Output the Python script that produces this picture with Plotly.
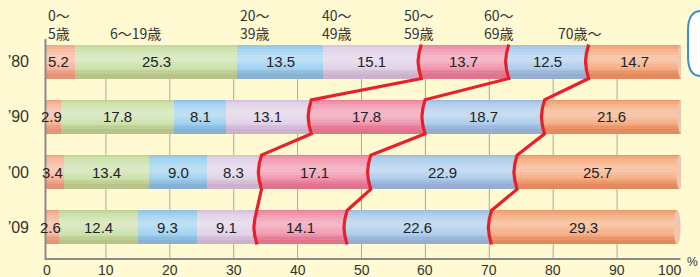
import numpy as np
import plotly.graph_objects as go

# ---- data ----
years = ["’80", "’90", "’00", "’09"]
age_groups = ["0～\n5歳", "6～19歳", "20～\n39歳", "40～\n49歳", "50～\n59歳", "60～\n69歳", "70歳～"]
v_0_5 = [5.2, 2.9, 3.4, 2.6]
v_6_19 = [25.3, 17.8, 13.4, 12.4]
v_20_39 = [13.5, 8.1, 9.0, 9.3]
v_40_49 = [15.1, 13.1, 8.3, 9.1]
v_50_59 = [13.7, 17.8, 17.1, 14.1]
v_60_69 = [12.5, 18.7, 22.9, 22.6]
v_70 = [14.7, 21.6, 25.7, 29.3]
x_ticks = [0, 10, 20, 30, 40, 50, 60, 70, 80, 90, 100]

series = [v_0_5, v_6_19, v_20_39, v_40_49, v_50_59, v_60_69, v_70]
colors = ["#f6a888", "#c3dd9b", "#8fcaee", "#dbc8e4", "#ee84a0", "#9ec4ea", "#f49e6c"]

W, H = 700, 277
L, R, T, B = 41.5, 18.5, 39, 18
PW, PH = W - L - R, H - T - B
BG = "#fffad2"

def px(xp):
    return (xp - L) / PW

def py(yp):
    return (H - B - yp) / PH

vals = np.array(series)  # groups x years
starts = np.vstack([np.zeros(vals.shape[1]), np.cumsum(vals, axis=0)[:-1]])
totals = vals.sum(axis=0)
ypos = np.arange(len(years))[::-1].astype(float)  # '80 on top
bw = 0.615

fig = go.Figure()
for g in range(len(series)):
    fig.add_trace(go.Bar(
        orientation="h", y=ypos, x=vals[g], base=starts[g], width=bw,
        marker=dict(color=colors[g], line=dict(width=0)),
        hoverinfo="skip", showlegend=False))

# cylinder shading (soft layers)
def shade(width, offset, color):
    fig.add_trace(go.Bar(orientation="h", y=ypos, x=totals, base=np.zeros(len(years)),
                         width=width, offset=offset, marker=dict(color=color, line=dict(width=0)),
                         hoverinfo="skip", showlegend=False))

for wdt in (0.46, 0.34, 0.22, 0.12):
    shade(wdt, 0.06 - wdt / 2, "rgba(255,255,255,0.13)")
for wdt in (0.16, 0.09):
    shade(wdt, -bw / 2, "rgba(110,0,0,0.06)")
shade(0.04, bw / 2 - 0.04, "rgba(110,0,0,0.04)")

# red connector lines (boundaries before 50~59, 60~69, 70~)
for g in (4, 5, 6):
    xs, ys = [], []
    for i in range(len(years)):
        c = starts[g][i]
        yt, yb = ypos[i] + bw / 2, ypos[i] - bw / 2
        xs += [c + 0.25, c - 0.1, c - 0.25, c - 0.1, c + 0.25]
        ys += [yt, ypos[i] + bw / 4, ypos[i], ypos[i] - bw / 4, yb]
    fig.add_trace(go.Scatter(x=xs, y=ys, mode="lines",
                             line=dict(color="#e8202a", width=3.2),
                             hoverinfo="skip", showlegend=False))

shapes = []
# gridlines
for t in x_ticks[1:-1]:
    shapes.append(dict(type="line", xref="x", yref="paper", x0=t, x1=t, y0=0, y1=py(45),
                       line=dict(color="#a8a8a8", width=1), layer="below"))
# bar end caps
for i in range(len(years)):
    shapes.append(dict(type="circle", xref="x", yref="y", x0=totals[i] - 0.55, x1=totals[i] + 0.55,
                       y0=ypos[i] - bw / 2, y1=ypos[i] + bw / 2,
                       fillcolor="#f0c6ae", line=dict(width=0), layer="above"))
# cover left of axis
shapes.append(dict(type="rect", xref="paper", yref="paper", x0=px(38), x1=px(44.5), y0=0, y1=1,
                   fillcolor=BG, line=dict(width=0), layer="above"))
# axes lines
shapes.append(dict(type="line", xref="paper", yref="paper", x0=px(45), x1=px(45), y0=0, y1=py(39),
                   line=dict(color="#8a8a8a", width=2), layer="above"))
shapes.append(dict(type="line", xref="paper", yref="paper", x0=px(44), x1=px(681), y0=0, y1=0,
                   line=dict(color="#8a8a8a", width=2), layer="above"))
# box at top right
x0b, x1b, y0b, y1b = px(688.5), px(740), py(11), py(76)
shapes.append(dict(type="path", xref="paper", yref="paper",
                   path=f"M {x0b+0.02},{y0b} L {x1b},{y0b} L {x1b},{y1b} L {x0b+0.02},{y1b} "
                        f"Q {x0b},{y1b} {x0b},{y1b+0.09} L {x0b},{y0b-0.09} Q {x0b},{y0b} {x0b+0.02},{y0b} Z",
                   fillcolor="white", line=dict(color="#3f8fd2", width=2), layer="above"))

annotations = []
num_font = dict(family="Liberation Sans, Arial", size=15, color="#222")
for g in range(len(series)):
    for i in range(len(years)):
        cx = starts[g][i] + vals[g][i] / 2
        annotations.append(dict(x=cx, y=ypos[i], xref="x", yref="y", text=f"{vals[g][i]:.1f}",
                                showarrow=False, font=num_font, xanchor="center", yanchor="middle"))

# x tick labels
tick_font = dict(family="Liberation Sans, Arial", size=14, color="#333")
for t in x_ticks:
    anc = "right" if t == x_ticks[-1] else "center"
    annotations.append(dict(x=t if t != 0 else 0.8, y=py(259.5), xref="x", yref="paper", text=str(t),
                            showarrow=False, font=tick_font, xanchor=anc, yanchor="top",
                            xshift=3 if anc == "right" else 0))
annotations.append(dict(x=px(686), y=py(271), xref="paper", yref="paper", text="%", showarrow=False,
                        font=dict(family="Liberation Sans, Arial", size=12, color="#333"),
                        xanchor="left", yanchor="bottom"))

jp_font = dict(family="Noto Sans CJK JP", size=14, color="#333")
top_label_px = [(46, "left"), (135, "center"), (238, "left"), (320, "left"), (402, "left"), (482, "left"), (580, "center")]
for (xp, anc), lab in zip(top_label_px, age_groups):
    annotations.append(dict(x=px(xp), y=py(45), xref="paper", yref="paper",
                            text=lab.replace("\n", "<br>"), showarrow=False, font=jp_font,
                            xanchor=anc, yanchor="bottom", align="left"))

fig.update_layout(
    width=W, height=H, margin=dict(l=L, r=R, t=T, b=B, autoexpand=False),
    paper_bgcolor=BG, plot_bgcolor=BG, barmode="overlay", bargap=0,
    xaxis=dict(range=[0, 100], tickvals=x_ticks, showticklabels=False,
               showgrid=False, zeroline=False, showline=False, ticks="",
               fixedrange=True, automargin=False),
    yaxis=dict(range=[-0.57, 3.407], tickvals=ypos, ticktext=years, showgrid=False,
               zeroline=False, showline=False, ticks="", ticklabelstandoff=12,
               tickfont=dict(family="Liberation Sans, Arial", size=16, color="#333"),
               fixedrange=True, automargin=False),
    shapes=shapes, annotations=annotations,
)

fig.write_html("out.html", config={"displayModeBar": False},
               post_script="document.body.style.margin='0';document.body.style.overflow='hidden';")
